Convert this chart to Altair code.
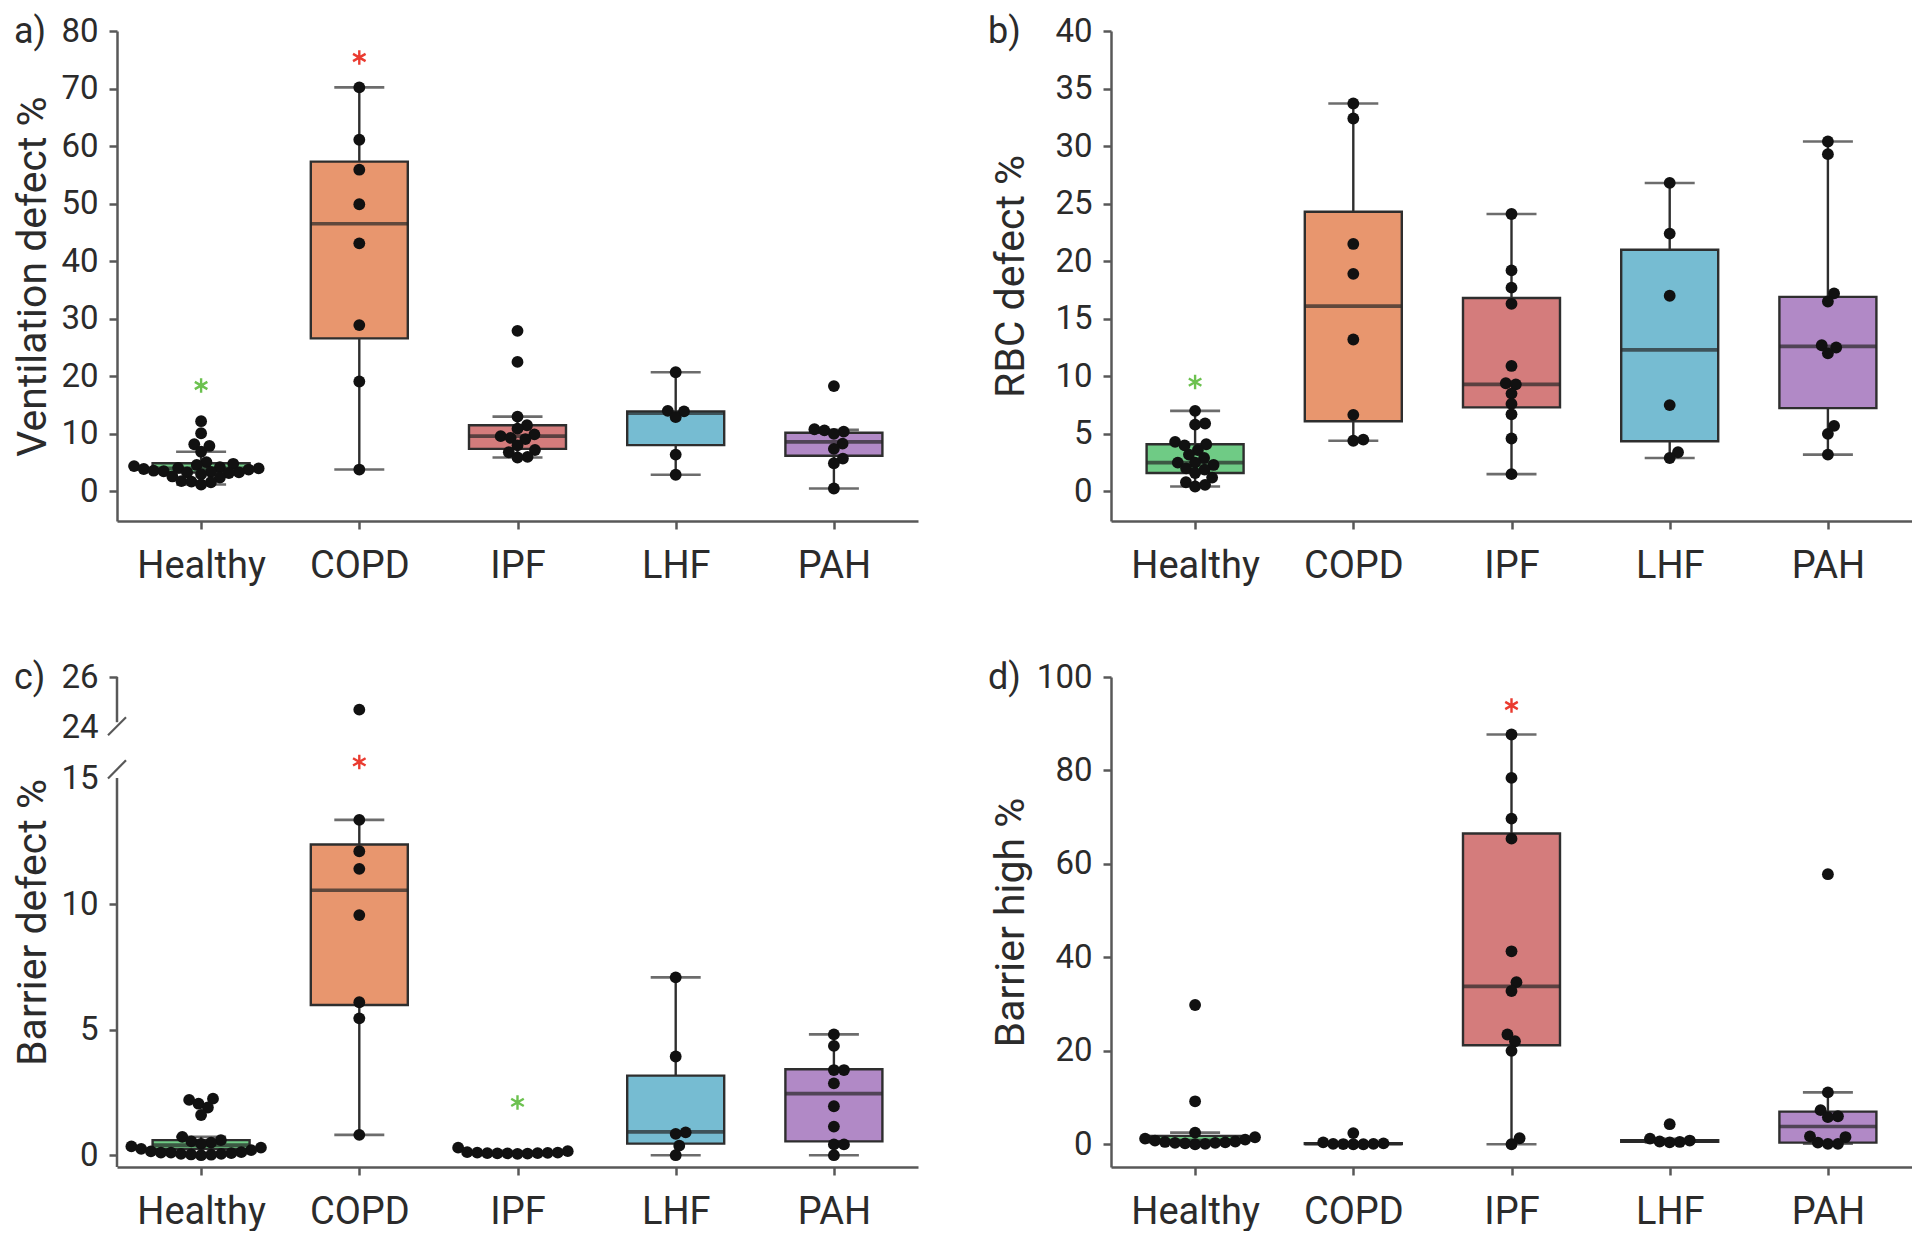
import json
import pandas as pd
import altair as alt

# ---------------- data ----------------
CATS = ["Healthy", "COPD", "IPF", "LHF", "PAH"]
COLORS = ["#6fcb85", "#e8966e", "#d47c7c", "#76bcd2", "#b189c6"]
STAR_COLORS = {"red": "#ea3b30", "green": "#6cc14f"}

# a) Ventilation defect %
VENT_HEALTHY = [12.2, 10.1, 8.2, 7.9, 6.9, 5.1, 4.8, 4.6, 4.4, 4.2, 4.1, 4.0, 3.9, 3.8,
                3.6, 3.5, 3.4, 3.3, 3.3, 3.2, 3.0, 2.6, 2.4, 1.8, 1.7, 1.6, 1.2]
VENT_COPD = [70.2, 61.1, 55.9, 49.9, 43.1, 28.9, 19.1, 3.8]
VENT_IPF = [27.9, 22.5, 13.0, 11.5, 10.9, 9.9, 9.6, 9.3, 9.1, 8.0, 7.2, 6.8, 6.0, 5.9]
VENT_LHF = [20.7, 14.0, 13.9, 12.9, 6.4, 2.9]
VENT_PAH = [18.3, 10.8, 10.6, 10.4, 10.0, 8.3, 7.4, 5.7, 4.9, 0.5]
VENT_LO = [1.2, 3.8, 5.9, 2.9, 0.5]
VENT_Q1 = [3.3, 26.6, 7.4, 8.05, 6.2]
VENT_MED = [4.0, 46.5, 9.6, 13.6, 8.6]
VENT_Q3 = [4.9, 57.3, 11.5, 13.9, 10.2]
VENT_HI = [6.9, 70.2, 13.0, 20.7, 10.7]
VENT_STAR_GROUP = ["COPD", "Healthy"]
VENT_STAR_Y = [75.4, 18.4]
VENT_STAR_KIND = ["red", "green"]

# b) RBC defect %
RBC_HEALTHY = [7.0, 5.9, 5.8, 4.3, 4.1, 4.0, 3.6, 3.2, 2.9, 2.5, 2.5, 2.3, 2.0, 1.9,
               1.6, 1.2, 0.8, 0.57, 0.43]
RBC_COPD = [33.7, 32.4, 21.5, 18.9, 13.2, 6.65, 4.5, 4.4]
RBC_IPF = [24.1, 19.2, 17.7, 16.3, 10.9, 9.4, 9.3, 8.5, 7.6, 6.7, 4.6, 1.5]
RBC_LHF = [26.8, 22.4, 17.0, 7.5, 3.4, 2.9]
RBC_PAH = [30.4, 29.3, 17.2, 16.5, 12.7, 12.5, 12.0, 5.7, 5.0, 3.2]
RBC_LO = [0.43, 4.4, 1.5, 2.9, 3.2]
RBC_Q1 = [1.6, 6.1, 7.3, 4.36, 7.24]
RBC_MED = [2.5, 16.1, 9.3, 12.3, 12.6]
RBC_Q3 = [4.1, 24.3, 16.8, 21.0, 16.9]
RBC_HI = [7.0, 33.7, 24.1, 26.8, 30.4]
RBC_STAR_GROUP = ["Healthy"]
RBC_STAR_Y = [9.5]
RBC_STAR_KIND = ["green"]

# c) Barrier defect %
BD_HEALTHY = [2.25, 2.2, 2.05, 1.9, 1.6, 0.73, 0.6, 0.55, 0.5, 0.45, 0.35, 0.3, 0.25,
              0.2, 0.15, 0.12, 0.1, 0.1, 0.08, 0.05, 0.05, 0.03, 0.02, 0.0]
BD_COPD = [24.7, 13.35, 12.1, 11.4, 9.56, 6.09, 5.45, 0.81]
BD_IPF = [0.3, 0.16, 0.12, 0.1, 0.1, 0.09, 0.08, 0.08, 0.07, 0.07, 0.06, 0.05]
BD_LHF = [7.08, 3.93, 0.91, 0.85, 0.38, 0.0]
BD_PAH = [4.81, 4.35, 3.39, 3.39, 2.86, 1.95, 1.14, 0.43, 0.43, 0.0]
BD_LO = [0.0, 0.81, 0.05, 0.0, 0.0]
BD_Q1 = [0.25, 5.98, 0.07, 0.46, 0.55]
BD_MED = [0.4, 10.55, 0.085, 0.93, 2.45]
BD_Q3 = [0.6, 12.37, 0.11, 3.17, 3.42]
BD_HI = [0.73, 13.35, 0.16, 7.08, 4.81]
BD_STAR_GROUP = ["COPD", "IPF"]
BD_STAR_Y = [17.9, 2.1]
BD_STAR_KIND = ["red", "green"]
BD_TICKS = [0, 5, 10, 15, 24, 26]
BD_BREAK = [15, 24]

# d) Barrier high %
BH_HEALTHY = [29.8, 9.2, 2.5, 1.5, 1.2, 1.0, 0.8, 0.6, 0.5, 0.4, 0.3, 0.3, 0.2, 0.1, 0.0]
BH_COPD = [2.4, 0.4, 0.2, 0.1, 0.1, 0.05, 0.0, 0.0]
BH_IPF = [87.7, 78.4, 69.7, 65.4, 41.3, 34.7, 32.8, 23.5, 22.05, 20.0, 1.3, 0.0]
BH_LHF = [4.3, 1.2, 0.8, 0.6, 0.5, 0.4]
BH_PAH = [57.8, 11.1, 7.3, 6.0, 5.8, 1.7, 1.55, 0.35, 0.1, 0.1]
BH_LO = [0.0, 0.0, 0.0, 0.4, 0.1]
BH_Q1 = [0.4, 0.04, 21.2, 0.55, 0.35]
BH_MED = [0.8, 0.1, 33.8, 0.7, 3.8]
BH_Q3 = [1.8, 0.25, 66.5, 0.9, 7.0]
BH_HI = [2.5, 0.4, 87.7, 1.2, 11.1]
BH_STAR_GROUP = ["IPF"]
BH_STAR_Y = [93.9]
BH_STAR_KIND = ["red"]

# ---------------- layout / style ----------------
W, H = 801, 490
CATW = W / len(CATS)
FONT = "Roboto"
TXT = "#2b2b2b"
AX = "#585858"
EDGE = "#2e2e2e"
BOXW = 97
CAPW = 50
DOT = 10.2
STAR_PATH = "M0,-1L0,1M-0.866,-0.5L0.866,0.5M-0.866,0.5L0.866,-0.5"


def swarm_offsets(vals, ppu, d=DOT):
    """beeswarm-style horizontal offsets (pixels) so dots do not overlap"""
    order = sorted(range(len(vals)), key=lambda i: vals[i])
    placed, offs = [], [0.0] * len(vals)
    for i in order:
        y = vals[i] * ppu
        cands = [0.0]
        for px, py in placed:
            dy = abs(py - y)
            if dy < d:
                dx = (d * d - dy * dy) ** 0.5
                cands += [px + dx, px - dx]
        cands.sort(key=abs)
        for c in cands:
            if all((c - px) ** 2 + (y - py) ** 2 >= d * d - 1e-6 for px, py in placed):
                offs[i] = c
                placed.append((c, y))
                break
    return offs


def panel(groups, lo, q1, med, q3, hi, star_g, star_y, star_k, yscale, ppu, yticks,
          ytitle, letter, letter_dx, tpad, broken=False):
    rows = []
    for i, c in enumerate(CATS):
        vals = groups[c]
        for v, o in zip(vals, swarm_offsets(vals, ppu)):
            rows.append({"group": c, "value": v, "xpos": i + o / CATW})
    pts = pd.DataFrame(rows)
    box = pd.DataFrame({"group": CATS, "idx": list(range(len(CATS))), "lo": lo, "q1": q1,
                        "med": med, "q3": q3, "hi": hi})
    stars = pd.DataFrame({"idx": [CATS.index(g) for g in star_g], "value": star_y,
                          "col": [STAR_COLORS[k] for k in star_k]})

    xscale = alt.Scale(domain=[-0.5, len(CATS) - 0.5], nice=False, zero=False)
    xaxis = alt.Axis(values=list(range(len(CATS))),
                     labelExpr=json.dumps(CATS) + "[datum.value]",
                     title=None, grid=False, tickSize=8, tickWidth=2.5, domainWidth=2.5,
                     domainColor=AX, tickColor=AX, labelPadding=18, labelFontSize=38,
                     labelColor=TXT, labelFont=FONT, labelAngle=0, labelOverlap=False,
                     labelFlush=False)
    yaxis_kw = dict(values=yticks, title=ytitle, grid=False, tickSize=8, tickWidth=2.5,
                    domainWidth=2.5, domainColor=AX, tickColor=AX, labelPadding=11,
                    labelFontSize=33, labelColor=TXT, labelFont=FONT, labelFlush=False,
                    labelOverlap=False, titleFont=FONT, titleFontSize=41,
                    titleFontWeight="normal", titleColor=TXT, titlePadding=tpad)
    if broken:
        test = " || ".join("datum.value == %s" % b for b in BD_BREAK)
        yaxis_kw["domain"] = False
        yaxis_kw["tickOpacity"] = {"condition": {"test": test, "value": 0}, "value": 1}
    yaxis = alt.Axis(**yaxis_kw)

    def X(f):
        return alt.X(f, type="quantitative", scale=xscale, axis=xaxis)

    def Y(f):
        return alt.Y(f, type="quantitative", scale=yscale, axis=yaxis)

    base = alt.Chart(box)
    whisk = base.mark_rule(color=EDGE, strokeWidth=2.4).encode(x=X("idx"), y=Y("lo"), y2="hi:Q")
    bars = base.mark_bar(size=BOXW, stroke=EDGE, strokeWidth=2.4).encode(
        x=X("idx"), y=Y("q1"), y2="q3:Q",
        color=alt.Color("group:N", scale=alt.Scale(domain=CATS, range=COLORS), legend=None))
    medl = base.mark_tick(orient="horizontal", size=BOXW, thickness=3.6, color="#262626").encode(
        x=X("idx"), y=Y("med"))
    caplo = base.mark_tick(orient="horizontal", size=CAPW, thickness=2.6, color=EDGE).encode(
        x=X("idx"), y=Y("lo"))
    caphi = base.mark_tick(orient="horizontal", size=CAPW, thickness=2.6, color=EDGE).encode(
        x=X("idx"), y=Y("hi"))
    dots = alt.Chart(pts).mark_circle(size=140, color="#111111", opacity=1).encode(
        x=X("xpos"), y=Y("value"))
    star = alt.Chart(stars).mark_point(shape=STAR_PATH, size=210, filled=False,
                                       strokeWidth=2.4, opacity=1).encode(
        x=X("idx"), y=Y("value"), stroke=alt.Stroke("col:N", scale=None))
    lab = alt.Chart(pd.DataFrame({"t": [letter]})).mark_text(
        align="left", baseline="middle", fontSize=36, font=FONT, color=TXT).encode(
        x=alt.value(letter_dx), y=alt.value(1), text="t:N")
    layers = [whisk, bars, medl, caplo, caphi, dots, star, lab]
    if broken:
        seg = alt.Chart(pd.DataFrame({"y": [26, 15.08], "y2": [24.2, yscale.domain[0]]})).mark_rule(
            color=AX, strokeWidth=2.5).encode(x=alt.value(0), y=Y("y"), y2="y2:Q")
        sl = alt.Chart(pd.DataFrame({"y": [22.6, 15.0], "y2": [24.4, 18.2]})).mark_rule(
            color=AX, strokeWidth=2.2).encode(x=alt.value(-9), x2=alt.value(9), y=Y("y"), y2="y2:Q")
        layers += [seg, sl]
    return alt.layer(*layers).properties(width=W, height=H)


# a
dom_a = [-5.14, 80]
pa = panel(dict(zip(CATS, [VENT_HEALTHY, VENT_COPD, VENT_IPF, VENT_LHF, VENT_PAH])),
           VENT_LO, VENT_Q1, VENT_MED, VENT_Q3, VENT_HI,
           VENT_STAR_GROUP, VENT_STAR_Y, VENT_STAR_KIND,
           alt.Scale(domain=dom_a, nice=False, zero=False), H / (dom_a[1] - dom_a[0]),
           list(range(0, 81, 10)), "Ventilation defect %", "a)", -103, 6)
# b
dom_b = [-2.57, 40]
pb = panel(dict(zip(CATS, [RBC_HEALTHY, RBC_COPD, RBC_IPF, RBC_LHF, RBC_PAH])),
           RBC_LO, RBC_Q1, RBC_MED, RBC_Q3, RBC_HI,
           RBC_STAR_GROUP, RBC_STAR_Y, RBC_STAR_KIND,
           alt.Scale(domain=dom_b, nice=False, zero=False), H / (dom_b[1] - dom_b[0]),
           list(range(0, 41, 5)), "RBC defect %", "b)", -123, 22)
# c  (broken axis: piecewise linear scale 0-15 | 24-26)
gap_units = 52 / 25.5
tot = 15.47 + gap_units + 2
u = H / tot
dom_c = [-0.47, 15, 24, 26]
rng_c = [H, H - 15.47 * u, H - (15.47 + gap_units) * u, 0]
pc = panel(dict(zip(CATS, [BD_HEALTHY, BD_COPD, BD_IPF, BD_LHF, BD_PAH])),
           BD_LO, BD_Q1, BD_MED, BD_Q3, BD_HI,
           BD_STAR_GROUP, BD_STAR_Y, BD_STAR_KIND,
           alt.Scale(domain=dom_c, range=rng_c, nice=False, zero=False), u,
           BD_TICKS, "Barrier defect %", "c)", -103, 6, broken=True)
# d
dom_d = [-4.86, 100]
pd_ = panel(dict(zip(CATS, [BH_HEALTHY, BH_COPD, BH_IPF, BH_LHF, BH_PAH])),
            BH_LO, BH_Q1, BH_MED, BH_Q3, BH_HI,
            BH_STAR_GROUP, BH_STAR_Y, BH_STAR_KIND,
            alt.Scale(domain=dom_d, nice=False, zero=False), H / (dom_d[1] - dom_d[0]),
            list(range(0, 101, 20)), "Barrier high %", "d)", -123, 4)

chart = alt.concat(pa, pb, pc, pd_, columns=2, spacing={"row": 156, "column": 193},
                   bounds="flush").properties(
    padding={"left": 4, "top": 6, "right": 0, "bottom": 0}, background="white"
).configure_view(stroke=None)

chart.save("out.html", embed_options={"renderer": "svg", "actions": False})
